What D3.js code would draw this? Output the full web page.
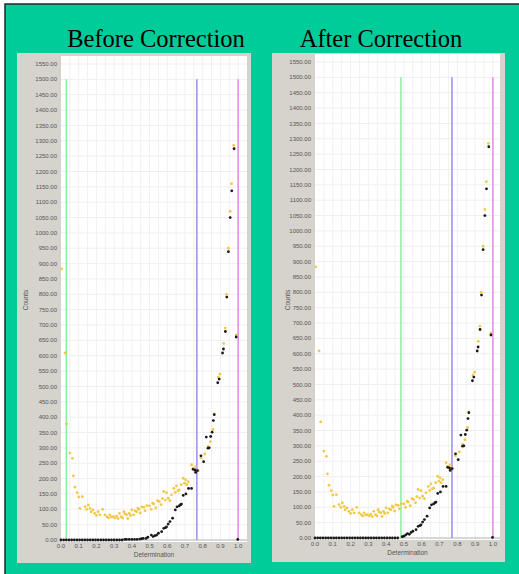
<!DOCTYPE html>
<html>
<head>
<meta charset="utf-8">
<script src="https://cdn.jsdelivr.net/npm/d3@7"></script>
<style>
  body { margin: 0; background: #fff; }
  svg { display: block; }
</style>
</head>
<body>
<svg id="chart"></svg>
<script>
var width = 519;
var height = 574;

// ticks
var yTicks = [0, 50, 100, 150, 200, 250, 300, 350, 400, 450, 500, 550, 600, 650, 700, 750,
  800, 850, 900, 950, 1000, 1050, 1100, 1150, 1200, 1250, 1300, 1350, 1400, 1450, 1500, 1550];
var xTicks = [0, 0.1, 0.2, 0.3, 0.4, 0.5, 0.6, 0.7, 0.8, 0.9, 1.0];
var xGrid = [0.05, 0.1, 0.15, 0.2, 0.25, 0.3, 0.35, 0.4, 0.45, 0.5, 0.55, 0.6, 0.65, 0.7, 0.75,
  0.8, 0.85, 0.9, 0.95, 1.0];

var titles = ["Before Correction", "After Correction"];

// vertical marker lines [green, blue, magenta] (x in determination units)
var markersBefore = [0.03, 0.767, 1.0];
var markersAfter = [0.483, 0.77, 1.0];
var markerTop = 1500;

// yellow series, [determination, counts]
var yellow = [
  [0.004, 883], [0.023, 609], [0.032, 378], [0.05, 283], [0.064, 266], [0.07, 209], [0.079, 172],
  [0.092, 154], [0.1, 140], [0.107, 103], [0.12, 141], [0.135, 109], [0.145, 100], [0.154, 114],
  [0.164, 103], [0.17, 92], [0.18, 98], [0.19, 87], [0.2, 80], [0.21, 92], [0.22, 82], [0.235, 100],
  [0.248, 82], [0.26, 76], [0.268, 72], [0.276, 82], [0.285, 75], [0.295, 76], [0.305, 72],
  [0.314, 78], [0.322, 70], [0.33, 87], [0.34, 76], [0.348, 72], [0.355, 92], [0.362, 85],
  [0.37, 82], [0.377, 70], [0.385, 87], [0.392, 80], [0.4, 98], [0.41, 82], [0.418, 95],
  [0.427, 92], [0.434, 104], [0.44, 100], [0.447, 88], [0.455, 108], [0.468, 106], [0.475, 95],
  [0.485, 112], [0.5, 111], [0.51, 100], [0.518, 120], [0.524, 117], [0.535, 105], [0.545, 128],
  [0.555, 125], [0.565, 115], [0.572, 135], [0.58, 158], [0.588, 130], [0.596, 154], [0.605, 136],
  [0.615, 128], [0.624, 147], [0.637, 168], [0.645, 155], [0.652, 176], [0.66, 160], [0.667, 163],
  [0.678, 180], [0.69, 201], [0.697, 185], [0.703, 196], [0.71, 180], [0.718, 190], [0.737, 245],
  [0.746, 234], [0.761, 239], [0.775, 225], [0.79, 268], [0.812, 280], [0.83, 305], [0.843, 320],
  [0.858, 360], [0.865, 411], [0.888, 530], [0.897, 540], [0.918, 640], [0.927, 690], [0.935, 800],
  [0.945, 950], [0.955, 1070], [0.963, 1160], [0.975, 1285], [0.989, 668]
];

// black series (before correction)
var blackBefore = [
  [0.0, 0], [0.015, 0], [0.03, 0], [0.045, 0], [0.06, 0], [0.075, 0], [0.09, 0], [0.105, 0],
  [0.12, 0], [0.135, 0], [0.15, 0], [0.165, 0], [0.18, 0], [0.195, 0], [0.21, 0], [0.225, 0],
  [0.24, 0], [0.255, 0], [0.27, 0], [0.285, 0], [0.3, 0], [0.315, 0], [0.33, 0], [0.345, 0],
  [0.36, 2], [0.37, 2], [0.385, 2], [0.4, 2], [0.415, 2], [0.43, 2], [0.445, 3], [0.455, 4],
  [0.464, 5], [0.48, 5], [0.49, 9], [0.51, 16], [0.52, 11], [0.53, 14], [0.54, 16], [0.55, 22],
  [0.568, 27], [0.58, 38], [0.59, 40], [0.596, 43], [0.605, 52], [0.615, 60], [0.63, 71],
  [0.645, 98], [0.655, 108], [0.667, 111], [0.675, 115], [0.68, 117], [0.69, 145], [0.705, 150],
  [0.72, 168], [0.737, 168], [0.746, 230], [0.756, 228], [0.76, 220], [0.77, 226], [0.79, 274],
  [0.805, 255], [0.82, 335], [0.83, 299], [0.837, 300], [0.845, 337], [0.853, 351], [0.86, 389],
  [0.865, 408], [0.885, 512], [0.893, 524], [0.912, 609], [0.917, 622], [0.928, 679], [0.936, 791],
  [0.945, 939], [0.955, 1050], [0.964, 1137], [0.977, 1274], [0.989, 661], [0.998, 2]
];

// black series (after correction)
var blackAfter = [
  [0.0, 0], [0.015, 0], [0.03, 0], [0.045, 0], [0.06, 0], [0.075, 0], [0.09, 0], [0.105, 0],
  [0.12, 0], [0.135, 0], [0.15, 0], [0.165, 0], [0.18, 0], [0.195, 0], [0.21, 0], [0.225, 0],
  [0.24, 0], [0.255, 0], [0.27, 0], [0.285, 0], [0.3, 0], [0.315, 0], [0.33, 0], [0.345, 0],
  [0.36, 0], [0.375, 0], [0.39, 0], [0.405, 0], [0.42, 0], [0.435, 0], [0.45, 0], [0.465, 0],
  [0.49, 4], [0.5, 6], [0.51, 10], [0.52, 14], [0.53, 12], [0.54, 18], [0.55, 22],
  [0.568, 27], [0.58, 38], [0.59, 40], [0.596, 43], [0.605, 52], [0.615, 60], [0.63, 71],
  [0.645, 98], [0.655, 108], [0.667, 111], [0.675, 115], [0.68, 117], [0.69, 145], [0.705, 150],
  [0.72, 168], [0.737, 168], [0.746, 230], [0.756, 228], [0.76, 220], [0.77, 226], [0.79, 274],
  [0.805, 255], [0.82, 335], [0.83, 299], [0.837, 300], [0.845, 337], [0.853, 351], [0.86, 389],
  [0.865, 408], [0.885, 512], [0.893, 524], [0.912, 609], [0.917, 622], [0.928, 679], [0.936, 791],
  [0.945, 939], [0.955, 1050], [0.964, 1137], [0.977, 1274], [0.989, 661], [0.998, 2]
];

var panels = [
  { title: titles[0], titleX: 156, box: [17, 53, 234, 510], plot: [61, 56, 247, 542],
    xMax: 1.05, y0: 540, y1550: 64, markers: markersBefore, black: blackBefore, countsX: 28 },
  { title: titles[1], titleX: 381, box: [272, 53, 233, 509], plot: [315, 54, 500, 540],
    xMax: 1.04, y0: 538, y1550: 62, markers: markersAfter, black: blackAfter, countsX: 290 }
];
var markerColors = ["#8cee9a", "#9a8cf0", "#e58ae5"];

var svg = d3.select("#chart").attr("width", width).attr("height", height);

// slide background
svg.append("rect").attr("width", width).attr("height", height).attr("fill", "#fff");
svg.append("rect")
  .attr("x", 5).attr("y", 4).attr("width", width).attr("height", height)
  .attr("fill", "#00cc99")
  .attr("stroke", "#1a2a24").attr("stroke-width", 1.5);

panels.forEach(function (p) {
  var g = svg.append("g");

  g.append("text")
    .attr("x", p.titleX).attr("y", 47)
    .attr("text-anchor", "middle")
    .style("font-family", "'Liberation Serif', 'Times New Roman', serif")
    .style("font-size", "24.5px")
    .attr("fill", "#000")
    .text(p.title);

  // grey window
  g.append("rect")
    .attr("x", p.box[0]).attr("y", p.box[1]).attr("width", p.box[2]).attr("height", p.box[3])
    .attr("fill", "#d6d3cd");

  var xScale = d3.scaleLinear().domain([0, p.xMax]).range([p.plot[0], p.plot[2]]);
  var yScale = d3.scaleLinear().domain([0, 1550]).range([p.y0, p.y1550]);

  // plot area
  g.append("rect")
    .attr("x", p.plot[0]).attr("y", p.plot[1])
    .attr("width", p.plot[2] - p.plot[0]).attr("height", p.plot[3] - p.plot[1])
    .attr("fill", "#fff");

  // grid
  g.selectAll(".hg").data(yTicks).enter().append("line")
    .attr("x1", p.plot[0]).attr("x2", p.plot[2])
    .attr("y1", function (d) { return yScale(d); }).attr("y2", function (d) { return yScale(d); })
    .attr("stroke", "#efeff3").attr("stroke-width", 1);
  g.selectAll(".vg").data(xGrid).enter().append("line")
    .attr("x1", function (d) { return xScale(d); }).attr("x2", function (d) { return xScale(d); })
    .attr("y1", p.plot[1]).attr("y2", p.plot[3])
    .attr("stroke", "#f1f1f5").attr("stroke-width", 1);

  // x axis base line
  g.append("line")
    .attr("x1", p.plot[0]).attr("x2", p.plot[2])
    .attr("y1", yScale(0)).attr("y2", yScale(0))
    .attr("stroke", "#b8b8b8").attr("stroke-width", 1);

  // y tick labels
  g.selectAll(".yl").data(yTicks).enter().append("text")
    .attr("x", p.plot[0] - 4)
    .attr("y", function (d) { return yScale(d); })
    .attr("dy", "0.35em")
    .attr("text-anchor", "end")
    .style("font-family", "'Liberation Sans', Arial, sans-serif")
    .style("font-size", "6px")
    .attr("fill", "#555")
    .text(function (d) { return d3.format(".2f")(d); });

  // x tick labels
  g.selectAll(".xl").data(xTicks).enter().append("text")
    .attr("x", function (d) { return xScale(d); })
    .attr("y", p.y0 + 8)
    .attr("text-anchor", "middle")
    .style("font-family", "'Liberation Sans', Arial, sans-serif")
    .style("font-size", "6px")
    .attr("fill", "#555")
    .text(function (d) { return d3.format(".1f")(d); });

  // axis titles
  g.append("text")
    .attr("x", (p.plot[0] + p.plot[2]) / 2).attr("y", p.y0 + 17)
    .attr("text-anchor", "middle")
    .style("font-family", "'Liberation Sans', Arial, sans-serif")
    .style("font-size", "6.5px")
    .attr("fill", "#555")
    .text("Determination");
  g.append("text")
    .attr("transform", "translate(" + p.countsX + ",300) rotate(-90)")
    .attr("text-anchor", "middle")
    .style("font-family", "'Liberation Sans', Arial, sans-serif")
    .style("font-size", "6.5px")
    .attr("fill", "#555")
    .text("Counts");

  // marker lines
  g.selectAll(".mk").data(p.markers).enter().append("line")
    .attr("x1", function (d) { return xScale(d); }).attr("x2", function (d) { return xScale(d); })
    .attr("y1", yScale(markerTop)).attr("y2", yScale(0))
    .attr("stroke", function (d, i) { return markerColors[i]; })
    .attr("stroke-width", 1.5);

  // points
  g.selectAll(".yp").data(yellow).enter().append("circle")
    .attr("cx", function (d) { return xScale(d[0]); })
    .attr("cy", function (d) { return yScale(d[1]); })
    .attr("r", 1.4)
    .attr("fill", "#f3c845");
  g.selectAll(".bp").data(p.black).enter().append("circle")
    .attr("cx", function (d) { return xScale(d[0]); })
    .attr("cy", function (d) { return yScale(d[1]); })
    .attr("r", 1.4)
    .attr("fill", "#1a1a1a");
});
</script>
</body>
</html>
